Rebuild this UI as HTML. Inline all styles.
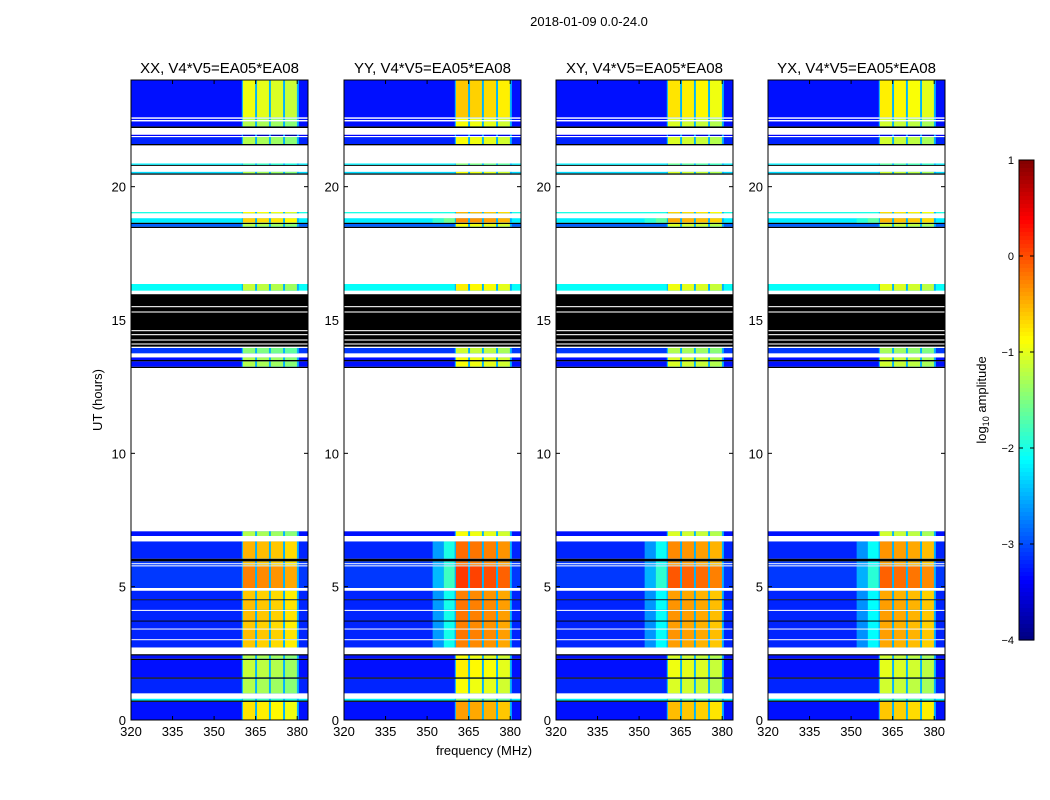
<!DOCTYPE html>
<html><head><meta charset="utf-8"><style>
body{margin:0;background:#fff;}
svg{display:block;font-family:"Liberation Sans",sans-serif;}
</style></head><body>
<svg id="chart" width="1050" height="800">
<text x="589" y="26" font-size="13" text-anchor="middle">2018-01-09 0.0-24.0</text>
<text x="484" y="755" font-size="13" text-anchor="middle">frequency (MHz)</text>
<text transform="translate(102,400) rotate(-90)" font-size="13" text-anchor="middle">UT (hours)</text>
<g id="panels"></g>
<g id="cbar"></g>
<text transform="translate(986,400) rotate(-90)" font-size="13" text-anchor="middle">log<tspan font-size="9" dy="3">10</tspan><tspan dy="-3"> amplitude</tspan></text>
</svg>
<script>
const panelTitles = ["XX, V4*V5=EA05*EA08","YY, V4*V5=EA05*EA08","XY, V4*V5=EA05*EA08","YX, V4*V5=EA05*EA08"];
const panelBandOffset = [-0.3, 0.05, -0.1, -0.15];
const panelShoulder = [0, 1, 1, 1];
const xTicks = [320,335,350,365,380];
const yTicks = [0,5,10,15,20];
const cbTicks = [1,0,-1,-2,-3,-4];
const subbands = [[360.4,364.8],[365.5,369.8],[370.5,374.9],[375.6,379.9]];
const subbandOffset = [0.05, 0, -0.05, -0.15];
// [start hour, end hour, type, background level, band level]
const rowSegments = [
[0,0.68,'d',-3.3,-0.5],[0.68,0.73,'b'],[0.73,0.8,'d',-2.2,-1.5],[0.8,1.0,'w'],
[1.0,1.55,'d',-3.2,-1.0],[1.55,1.6,'b'],[1.6,2.25,'d',-3.3,-0.9],[2.25,2.3,'b'],
[2.3,2.42,'d',-3.3,-1.0],[2.42,2.47,'b'],[2.47,2.72,'w'],[2.72,3.0,'d',-3.2,-0.35],
[3.0,3.03,'w'],[3.03,3.4,'d',-3.2,-0.3],[3.4,3.43,'w'],[3.43,3.7,'d',-3.2,-0.35],
[3.7,3.73,'b'],[3.73,4.1,'d',-3.2,-0.3],[4.1,4.13,'w'],[4.13,4.5,'d',-3.2,-0.3],
[4.5,4.53,'b'],[4.53,4.85,'d',-3.2,-0.35],[4.85,4.95,'w'],[4.95,5.77,'d',-3.1,0.0],
[5.77,5.8,'w'],[5.8,5.85,'d',-3.1,-0.3],[5.85,5.88,'w'],[5.88,5.95,'d',-3.1,-0.3],
[5.95,6.05,'b'],[6.05,6.7,'d',-3.2,-0.25],[6.7,6.9,'w'],[6.9,7.08,'d',-3.3,-1.0],
[7.08,13.2,'w'],[13.2,13.25,'b'],[13.25,13.45,'d',-3.3,-1.0],[13.45,13.5,'b'],
[13.5,13.6,'d',-3.3,-1.0],[13.6,13.75,'w'],[13.75,13.95,'d',-3.1,-1.2],[13.95,14.0,'w'],
[14.0,15.97,'b'],[14.08,14.12,'w'],[14.23,14.27,'w'],[14.43,14.47,'w'],[14.58,14.62,'w'],
[15.28,15.32,'w'],[15.48,15.52,'w'],[15.97,16.1,'w'],[16.1,16.35,'d',-2.1,-0.9],
[16.35,18.45,'w'],[18.45,18.5,'b'],[18.5,18.6,'d',-2.9,-1.0],[18.6,18.65,'b'],
[18.65,18.82,'d',-2.2,-0.4],[18.82,19.0,'w'],[19.0,19.05,'d',-2.0,-0.6],[19.05,20.45,'w'],
[20.45,20.5,'b'],[20.5,20.56,'d',-2.3,-1.0],[20.56,20.78,'w'],[20.78,20.82,'b'],
[20.82,20.87,'d',-2.2,-1.5],[20.87,21.55,'w'],[21.55,21.6,'b'],[21.6,21.86,'d',-3.2,-1.0],
[21.86,21.9,'w'],[21.9,21.95,'d',-3.4,-3.4],[21.95,22.2,'w'],[22.2,22.26,'b'],
[22.26,22.45,'d',-3.3,-1.0],[22.45,22.5,'w'],[22.5,22.55,'d',-3.3,-1.0],[22.55,22.6,'w'],
[22.6,24,'d',-3.3,-0.7]
];
const gapLevel = -2.5;

function jet(v){
  let t=(v+4)/5; t=Math.max(0,Math.min(1,t));
  const f=x=>Math.round(255*Math.max(0,Math.min(1,x)));
  const r=f(Math.min(4*t-1.5,-4*t+4.5)), g=f(Math.min(4*t-0.5,-4*t+3.5)), b=f(Math.min(4*t+0.5,-4*t+2.5));
  return `rgb(${r},${g},${b})`;
}
const NS="http://www.w3.org/2000/svg";
function mk(tag,attrs,parent){const e=document.createElementNS(NS,tag);for(const k in attrs)e.setAttribute(k,attrs[k]);parent.appendChild(e);return e;}
const panelX=[131,344,556,768], PW=177, PT=80, PB=720;
const XMIN=320, XMAX=383.9, YMIN=0, YMAX=24;
const panelsG=document.getElementById('panels');
panelX.forEach((px,p)=>{
  const xs=f=>px+(f-XMIN)/(XMAX-XMIN)*PW;
  const ys=h=>PB-(h-YMIN)/(YMAX-YMIN)*(PB-PT);
  const g=mk('g',{},panelsG);
  
  
  rowSegments.forEach(s=>{
    const y1=ys(s[1]), y0=ys(s[0]), h=Math.max(y0-y1,1);
    if(s[2]==='w'){const r=mk('rect',{x:px,y:y1,width:PW,height:h,fill:'#fff'},g);return;}
    if(s[2]==='b'){const r=mk('rect',{x:px,y:y1,width:PW,height:h,fill:'#000'},g);return;}
    const bg=s[3], band=s[4]+panelBandOffset[p];
    const r=mk('rect',{x:px,y:y1,width:PW,height:h,fill:jet(bg)},g);
    
    
    const gp=mk('rect',{x:xs(360),y:y1,width:xs(380.6)-xs(360),height:h,fill:jet(gapLevel)},g);
    
    
    if(panelShoulder[p] && s[4]>-0.5){
      const mid=(bg+band)/2-0.3;
      const sh1=mk('rect',{x:xs(352),y:y1,width:xs(356)-xs(352),height:h,fill:jet((bg+mid)/2)},g);
      
      
      const sh=mk('rect',{x:xs(356),y:y1,width:xs(360)-xs(356),height:h,fill:jet(mid)},g);
      
      
    }
    subbands.forEach((sb,i)=>{
      const c=mk('rect',{x:xs(sb[0]),y:y1,width:xs(sb[1])-xs(sb[0]),height:h,fill:jet(band+subbandOffset[i])},g);
      
      
    });
  });
  const fr=mk('rect',{x:px,y:PT,width:PW,height:PB-PT,fill:'none',stroke:'#000','stroke-width':1},g);
  
  
  const t=mk('text',{x:px+PW/2,y:73,'font-size':15,'text-anchor':'middle'},g);
  t.textContent=panelTitles[p];
  
  
  xTicks.forEach(v=>{
    const x=xs(v);
    mk('line',{x1:x,x2:x,y1:PB,y2:PB-4,stroke:'#000'},g);
    mk('line',{x1:x,x2:x,y1:PT,y2:PT+4,stroke:'#000'},g);
    const l=mk('text',{x:x,y:PB+16,'font-size':13,'text-anchor':'middle'},g);
    l.textContent=v;
    
    
  });
  yTicks.forEach(v=>{
    const y=ys(v);
    mk('line',{x1:px,x2:px+4,y1:y,y2:y,stroke:'#000'},g);
    mk('line',{x1:px+PW,x2:px+PW-4,y1:y,y2:y,stroke:'#000'},g);
    const l=mk('text',{x:px-5,y:y+5,'font-size':13,'text-anchor':'end'},g);
    l.textContent=v;
    
    
  });
});
const cb=document.getElementById('cbar');
const CX=1019,CW=15,CT=160,CB=640;
for(let i=0;i<120;i++){
  const v=1-5*i/120;
  mk('rect',{x:CX,y:CT+i*(CB-CT)/120,width:CW,height:(CB-CT)/120+0.6,fill:jet(v-5/240)},cb);
}
mk('rect',{x:CX,y:CT,width:CW,height:CB-CT,fill:'none',stroke:'#000'},cb);
cbTicks.forEach(v=>{
  const y=CT+(1-v)/5*(CB-CT);
  mk('line',{x1:CX,x2:CX+4,y1:y,y2:y,stroke:'#000'},cb);
  mk('line',{x1:CX+CW,x2:CX+CW-4,y1:y,y2:y,stroke:'#000'},cb);
  const l=mk('text',{x:CX-5,y:y+4,'font-size':11,'text-anchor':'end'},cb);
  l.textContent=v<0?'−'+(-v):String(v);
  
  
});
</script>
</body></html>
